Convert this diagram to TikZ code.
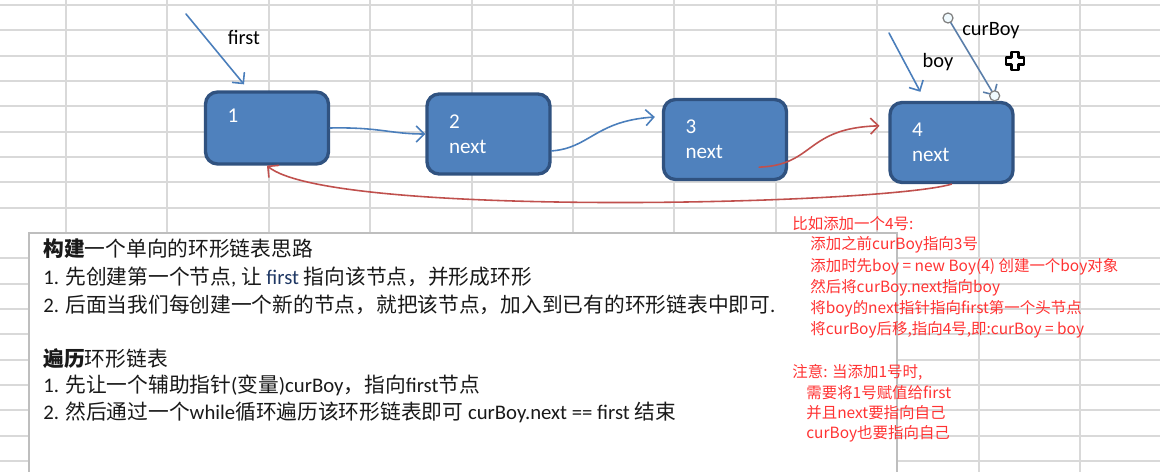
\documentclass[tikz,border=0pt]{standalone}
\usepackage{fontspec}
\setmainfont{Noto Sans CJK SC}
\newfontfamily\latfont{Carlito}
\usetikzlibrary{arrows.meta, calc}
\definecolor{nodeblue}{RGB}{79, 129, 189}
\definecolor{nodeedge}{RGB}{48, 82, 128}
\definecolor{linkblue}{RGB}{74, 126, 187}
\definecolor{linkred}{RGB}{192, 80, 77}
\definecolor{notered}{RGB}{255, 51, 51}
\definecolor{gridgray}{RGB}{217, 217, 217}
\definecolor{boxgray}{RGB}{190, 190, 190}
\definecolor{firstblue}{RGB}{31, 56, 100}

\begin{document}
\begin{tikzpicture}[x=0.02cm, y=-0.02cm, line cap=round,
    boxnode/.style={draw=nodeedge, line width=1.9pt, fill=nodeblue, rounded corners=0.24cm,
      text width=1.58cm, inner xsep=0.44cm, inner ysep=0pt, minimum height=1.6cm,
      align=left, text=white, font=\latfont\fontsize{12}{14.2}\selectfont},
    link/.style={linkblue, line width=0.9pt, -{Straight Barb[length=1.6mm, width=3.2mm]}},
    redlink/.style={link, linkred},
    tag/.style={anchor=base, font=\latfont\fontsize{11.6}{14}\selectfont},
    blk/.style={anchor=base west, inner sep=0pt, text=black!90, font=\fontsize{11.8}{14}\selectfont},
    note/.style={anchor=base west, inner sep=0pt, text=notered, font=\fontsize{8.8}{10}\selectfont}]
    \fill[white] (0,0) rectangle (1160,472);
    \useasboundingbox (0,0) rectangle (1160,472);

    % 表格线
    \foreach \gy in {5,30.3,55.7,81,106.3,131.7,157,182.3,207.7,258.3,283.7,309,334.3,359.7,385,410.3,435.7,461}
        \draw[gridgray, line width=1.1pt] (0,\gy) -- (1160,\gy);
    \foreach \gx in {66,167.4,268.8,370.2,471.6,573,674.4,775.8,877.2,978.6,1080}
        \draw[gridgray, line width=1.1pt] (\gx,0) -- (\gx,472);

    % 文本框
    \fill[white] (29,233) rectangle (897,480);
    \draw[boxgray, line width=1.2pt] (29,480) -- (29,233) -- (897,233) -- (897,480);

    % 节点
    \node[boxnode, minimum height=1.44cm] (n1) at (267,128) {1\\~};
    \node[boxnode] (n2) at (488.5,134) {2\\next};
    \node[boxnode] (n3) at (725,139.5) {3\\next};
    \node[boxnode] (n4) at (951.5,142.5) {4\\next};

    % 指针
    \coordinate (firstTail) at (186,14);
    \coordinate (boyTail) at (889,33);
    \coordinate (curTail) at (948,18);
    \node[tag] (firstLbl) at (244,45) {first};
    \node[tag] (boyLbl) at (938,68) {boy};
    \node[tag] (curLbl) at (991,36) {curBoy};
    \draw[link] (firstTail) -- ($(n1.north)+(-23,-6)$);
    \draw[link] (boyTail) -- ($(n4.north west)+(32,-9)$);
    \draw[link, draw=linkblue!70!gray] (curTail) -- ($(n4.north east)+(-20,-5)$);
    \draw[gray, fill=cyan!6, line width=0.7pt] (curTail) circle (0.1cm);
    \draw[gray, fill=cyan!6, line width=0.7pt] ($(n4.north east)+(-20,-5)$) circle (0.1cm);

    % 鼠标
    \draw[black, fill=white, line width=1.6pt, line join=round, shift={(1015,61)}]
        (-3.5,-9) -- (3.5,-9) -- (3.5,-3.5) -- (9,-3.5) -- (9,3.5) -- (3.5,3.5) -- (3.5,9)
        -- (-3.5,9) -- (-3.5,3.5) -- (-9,3.5) -- (-9,-3.5) -- (-3.5,-3.5) -- cycle;

    % next 连线
    \draw[link] (n1.east) .. controls (380,127) and (390,134) .. (n2.west);
    \draw[link, shorten >=4pt] (n2.-15) .. controls (590,148) and (595,121) .. (n3.160);
    \draw[redlink, shorten >=5pt] ($(n3.south east)+(-29,-14)$) .. controls (815,165) and (805,128) .. (n4.165);
    \draw[redlink] (n4.south) .. controls (880,205) and (330,218) .. (n1.south);

    % 思路说明
    \node[blk] (b1) at (43,257) {{\bfseries 构建}一个单向的环形链表思路};
    \node[blk] (b2) at (43,285) {{\latfont 1. }先创建第一个节点{\latfont , }让{\latfont\color{firstblue}\ first\ }指向该节点，并形成环形};
    \node[blk] (b3) at (43,313) {{\latfont 2. }后面当我们每创建一个新的节点，就把该节点，加入到已有的环形链表中即可{\latfont .}};
    \node[blk] (b4) at (43,367) {{\bfseries 遍历}环形链表};
    \node[blk] (b5) at (43,393) {{\latfont 1. }先让一个辅助指针{\latfont (}变量{\latfont )curBoy}，指向{\latfont first}节点};
    \node[blk] (b6) at (43,420) {{\latfont 2. }然后通过一个{\latfont while}循环遍历该环形链表即可{\latfont\ curBoy.next == first }结束};

    % 红字注释
    \foreach \tx/\ty/\txt [count=\k] in {
        792/230/{比如添加一个4号:},
        810/250/{添加之前curBoy指向3号},
        810/272/{添加时先boy = new Boy(4) 创建一个boy对象},
        810/293/{然后将curBoy.next指向boy},
        810/314/{将boy的next指针指向first第一个头节点},
        810/335/{将curBoy后移,指向4号,即:curBoy = boy},
        792/378/{注意: 当添加1号时,},
        806/399/{需要将1号赋值给first},
        806/419/{并且next要指向自己},
        806/439/{curBoy也要指向自己}}
        \node[note] (note\k) at (\tx,\ty) {\txt};
\end{tikzpicture}
\end{document}
